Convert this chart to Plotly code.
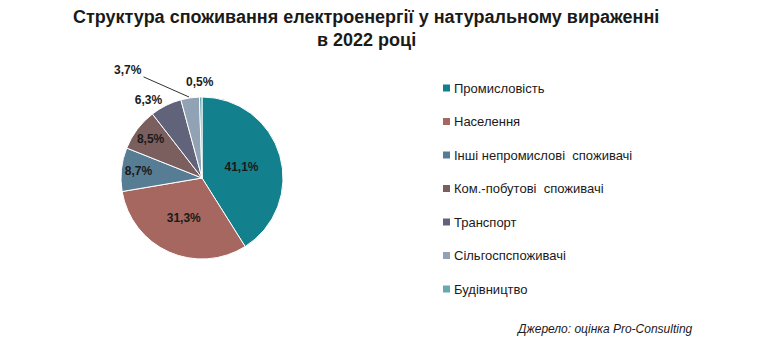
import plotly.graph_objects as go

categories = ["Промисловість", "Населення", "Інші непромислові  споживачі",
              "Ком.-побутові  споживачі", "Транспорт", "Сільгоспспоживачі", "Будівництво"]
values = [41.1, 31.3, 8.7, 8.5, 6.3, 3.7, 0.5]
colors = ["#12818D", "#A5675F", "#577D94", "#7B5F5E", "#60637A", "#90A2B3", "#67A8B1"]
text_positions = ["inside", "inside", "inside", "inside", "outside", "none", "none"]

labels_txt = [f"{v:.1f}%".replace(".", ",") for v in values]

W, H = 757, 360
OFF = 8  # browser body margin offset


def px(x):
    return (x - OFF) / W


def py(y):
    return 1 - (y - OFF) / H


cx, cy, r = 202, 178, 81
FONT = "Liberation Sans, Arial"
TXT = "#1a1a1a"

fig = go.Figure(go.Pie(
    labels=categories, values=values, sort=False, direction="clockwise", rotation=0,
    marker=dict(colors=colors, line=dict(color="white", width=1)),
    text=labels_txt, textinfo="text", textposition=text_positions,
    insidetextorientation="horizontal",
    textfont=dict(family=FONT, size=12, color=TXT, weight="bold"),
    outsidetextfont=dict(family=FONT, size=12, color=TXT, weight="bold"),
    insidetextfont=dict(family=FONT, size=12, color=TXT, weight="bold"),
    domain=dict(x=[px(cx - r), px(cx + r)], y=[py(cy + r), py(cy - r)]),
    showlegend=False, hoverinfo="label+text",
))

shapes = []
annotations = []
leg_x0, leg_y0, leg_dy = 443, 88, 33.5
for i, (c, col) in enumerate(zip(categories, colors)):
    yc = leg_y0 + i * leg_dy
    shapes.append(dict(type="rect", xref="paper", yref="paper",
                       x0=px(leg_x0), x1=px(leg_x0 + 7),
                       y0=py(yc + 3.5), y1=py(yc - 3.5),
                       fillcolor=col, line=dict(width=0)))
    annotations.append(dict(xref="paper", yref="paper", x=px(leg_x0 + 9), y=py(yc),
                            text=c, showarrow=False, xanchor="left", yanchor="middle",
                            font=dict(family=FONT, size=13, color=TXT)))

# outside labels for the two smallest slices (Excel-style placement)
annotations.append(dict(xref="paper", yref="paper", x=px(189), y=py(97),
                        text=f"<b>{labels_txt[5]}</b>", showarrow=True, arrowhead=0,
                        arrowwidth=1, arrowcolor="#333333", ax=-61, ay=-27,
                        font=dict(family=FONT, size=12, color=TXT)))
annotations.append(dict(xref="paper", yref="paper", x=px(200), y=py(82),
                        text=f"<b>{labels_txt[6]}</b>", showarrow=False,
                        xanchor="center", yanchor="middle",
                        font=dict(family=FONT, size=12, color=TXT)))

annotations.append(dict(xref="paper", yref="paper", x=px(695), y=py(329),
                        text="<i>Джерело: оцінка Pro-Consulting</i>", showarrow=False,
                        xanchor="right", yanchor="middle",
                        font=dict(family=FONT, size=12, color=TXT)))

annotations.append(dict(xref="paper", yref="paper", x=px(366), y=py(17),
                        text="<b>Структура споживання електроенергії у натуральному вираженні</b>",
                        showarrow=False, xanchor="center", yanchor="middle",
                        font=dict(family=FONT, size=18, color=TXT)))
annotations.append(dict(xref="paper", yref="paper", x=px(366), y=py(40),
                        text="<b>в 2022 році</b>",
                        showarrow=False, xanchor="center", yanchor="middle",
                        font=dict(family=FONT, size=18, color=TXT)))

fig.update_layout(
    width=W, height=H,
    margin=dict(l=0, r=0, t=0, b=0),
    paper_bgcolor="white", plot_bgcolor="white",
    shapes=shapes, annotations=annotations,
)

fig.write_html("out.html")
